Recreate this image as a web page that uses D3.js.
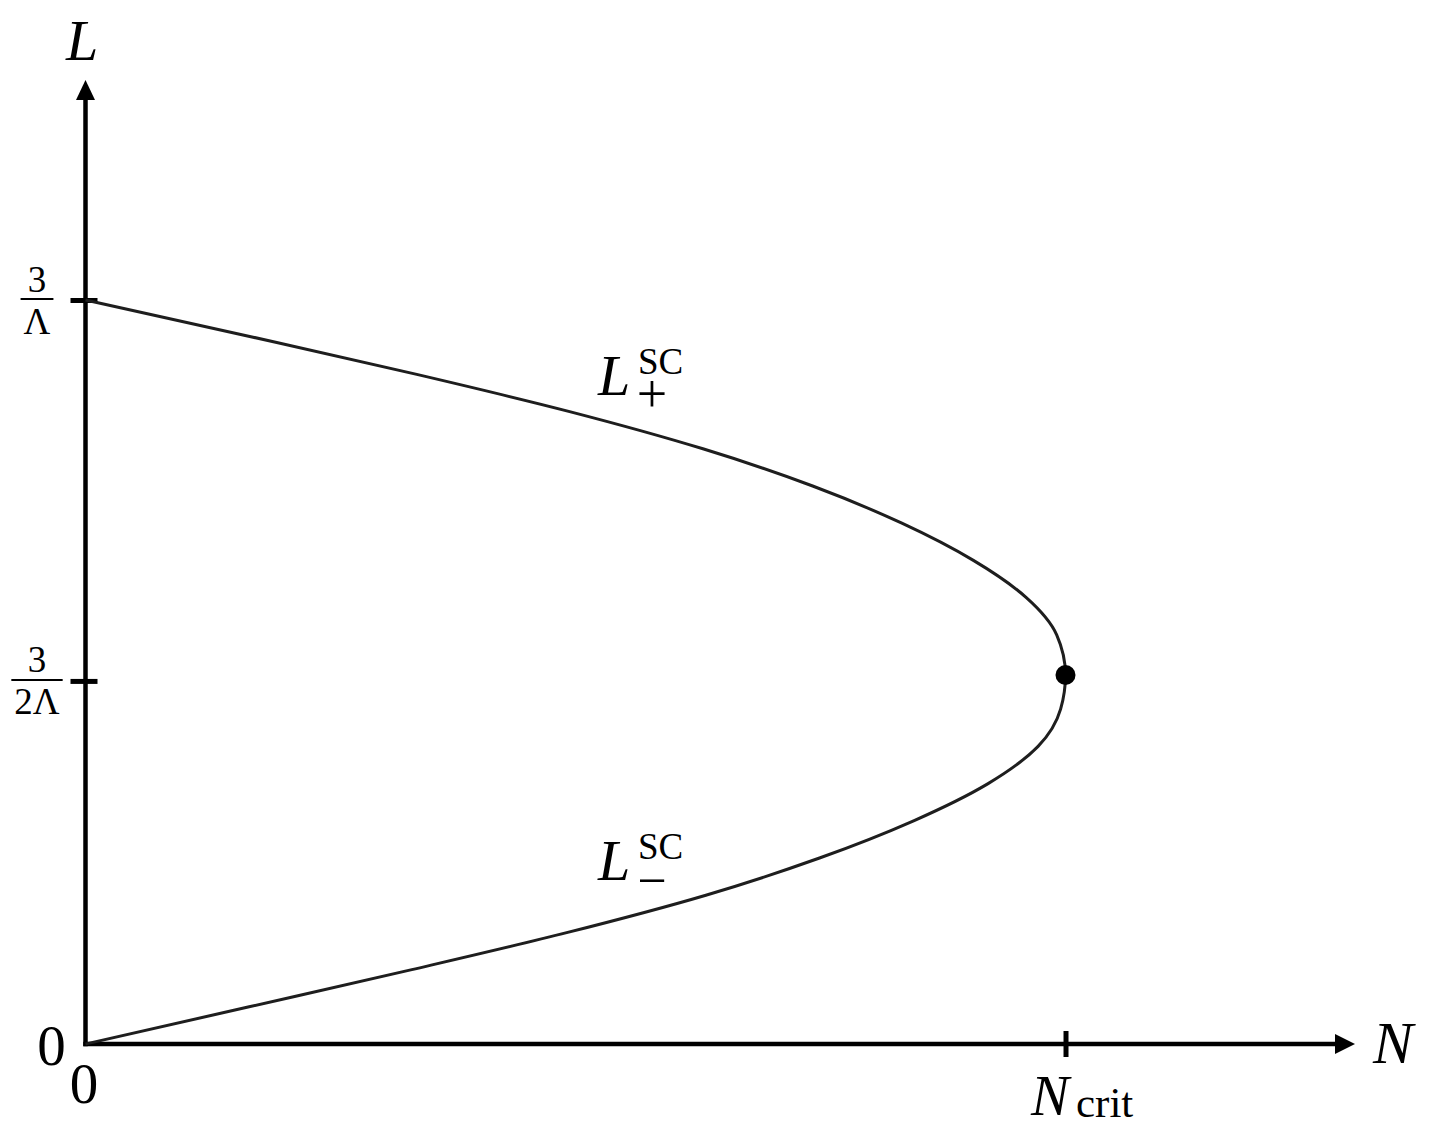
<!DOCTYPE html>
<html><head><meta charset="utf-8">
<script src="https://cdn.jsdelivr.net/npm/d3@7"></script>
<style>body{margin:0;background:#fff} svg{display:block}</style>
</head><body><svg id="c" width="1446" height="1134"></svg>
<script>
// Curve L(N) (N in units of N_crit, L in units of 3/Λ)
const curveN = [0, 0.171, 0.338, 0.494, 0.630, 0.742, 0.833, 0.906, 0.960, 0.991, 1,
                0.995, 0.972, 0.921, 0.845, 0.749, 0.633, 0.492, 0.333, 0.167, 0];
const curveL = [1, 0.95, 0.90, 0.85, 0.80, 0.75, 0.70, 0.65, 0.60, 0.55, 0.496,
                0.45, 0.40, 0.35, 0.30, 0.25, 0.20, 0.15, 0.10, 0.05, 0];
const critN = [1];
const critL = [0.496];
const xTickValues = [1];
const xTickMain = ["N"];
const xTickSub = ["crit"];
const yTickValues = [0.488, 1];
const yTickNumerators = ["3", "3"];
const yTickDenominators = ["2Λ", "Λ"];
const xAxisMax = 1.2954;
const yAxisMax = 1.2957;
const axisTitles = ["N", "L"];
const zeroLabels = ["0", "0"];
const branchMain = ["L", "L"];
const branchSup = ["SC", "SC"];
const branchSub = ["+", "−"];
const branchLabelN = [0.525, 0.525];
const branchLabelL = [0.8723, 0.2204];

const svg = d3.select("#c");
const serif = "'Liberation Serif', 'DejaVu Serif', serif";
const ox = 85.5, oy = 1044;
const x = d3.scaleLinear().domain([0, xAxisMax]).range([ox, 1355]);
const y = d3.scaleLinear().domain([0, yAxisMax]).range([oy, 80]);
const AW = 4.5, ARL = 20, ARH = 10;

// axes via d3
const gx = svg.append("g").attr("transform", `translate(0,${oy})`)
  .call(d3.axisBottom(x).tickValues(xTickValues).tickFormat(() => "").tickSizeOuter(0));
gx.select(".domain").attr("d", `M${ox - AW/2},0H${x(xAxisMax) - ARL + 1}`).attr("stroke", "#000").attr("stroke-width", AW);
gx.selectAll(".tick line").attr("y1", -13).attr("y2", 13).attr("stroke", "#000").attr("stroke-width", 5);
gx.append("path").attr("d", `M${x(xAxisMax)},0L${x(xAxisMax) - ARL},${-ARH}L${x(xAxisMax) - ARL},${ARH}Z`).attr("fill", "#000");

const gy = svg.append("g").attr("transform", `translate(${ox},0)`)
  .call(d3.axisLeft(y).tickValues(yTickValues).tickFormat(() => "").tickSizeOuter(0));
gy.select(".domain").attr("d", `M0,${oy + AW/2}V${y(yAxisMax) + ARL - 1}`).attr("stroke", "#000").attr("stroke-width", AW);
gy.selectAll(".tick line").attr("x1", -15).attr("x2", 12).attr("stroke", "#000").attr("stroke-width", 5);
gy.append("path").attr("d", `M0,${y(yAxisMax)}L${-ARH + 0.5},${y(yAxisMax) + ARL}L${ARH - 0.5},${y(yAxisMax) + ARL}Z`).attr("fill", "#000");

// y tick fraction labels
gy.selectAll(".tick").each(function(d, i) {
  const g = d3.select(this);
  const cx = -48.5;
  const num = g.append("text").attr("x", cx).attr("y", -9).attr("text-anchor", "middle").attr("fill", "#000")
    .attr("font-family", serif).attr("font-size", 37).text(yTickNumerators[i]);
  const den = g.append("text").attr("x", cx).attr("y", 33).attr("text-anchor", "middle").attr("fill", "#000")
    .attr("font-family", serif).attr("font-size", 37).text(yTickDenominators[i]);
  const w = Math.max(num.node().getComputedTextLength(), den.node().getComputedTextLength()) + 6;
  g.append("line").attr("x1", cx - w/2).attr("x2", cx + w/2).attr("y1", -1.5).attr("y2", -1.5)
    .attr("stroke", "#000").attr("stroke-width", 2);
});

// x tick label N_crit
gx.selectAll(".tick").each(function(d, i) {
  const g = d3.select(this);
  g.append("text").attr("x", -35).attr("y", 71).attr("text-anchor", "start").attr("font-family", serif)
    .attr("font-style", "italic").attr("font-size", 57).attr("fill", "#000").text(xTickMain[i]);
  g.append("text").attr("x", 10).attr("y", 73).attr("text-anchor", "start").attr("font-family", serif)
    .attr("font-size", 43).attr("fill", "#000").text(xTickSub[i]);
});

// zero labels
svg.append("text").attr("x", 51.5).attr("y", 1065).attr("text-anchor", "middle").attr("font-family", serif)
  .attr("font-size", 57).text(zeroLabels[0]);
svg.append("text").attr("x", 84).attr("y", 1103).attr("text-anchor", "middle").attr("font-family", serif)
  .attr("font-size", 57).text(zeroLabels[1]);

// axis titles
svg.append("text").attr("x", 1373).attr("y", 1063).attr("font-family", serif).attr("font-style", "italic")
  .attr("font-size", 60).text(axisTitles[0]);
svg.append("text").attr("x", 66).attr("y", 60).attr("font-family", serif).attr("font-style", "italic")
  .attr("font-size", 58).text(axisTitles[1]);

// curve (N as a smooth function of L)
const pts = curveN.map((n, i) => [n, curveL[i]]);
svg.append("path").datum(pts)
  .attr("d", d3.line().x(d => x(d[0])).y(d => y(d[1])).curve(d3.curveMonotoneY))
  .attr("fill", "none").attr("stroke", "#1e1e1e").attr("stroke-width", 3);

// critical point
svg.selectAll("circle.crit").data(critN).enter().append("circle").attr("class", "crit")
  .attr("cx", d => x(d)).attr("cy", (d, i) => y(critL[i])).attr("r", 10).attr("fill", "#000");

// branch labels
branchMain.forEach((m, i) => {
  const bx = x(branchLabelN[i]), by = y(branchLabelL[i]);
  svg.append("text").attr("x", bx - 2).attr("y", by).attr("font-family", serif).attr("font-style", "italic")
    .attr("font-size", 58).text(m);
  svg.append("text").attr("x", bx + 38).attr("y", by - 21).attr("font-family", serif)
    .attr("font-size", 37).text(branchSup[i]);
  svg.append("text").attr("x", bx + 52).attr("y", by + (i === 0 ? 17 : 18)).attr("text-anchor", "middle")
    .attr("font-family", serif).attr("font-size", i === 0 ? 54 : 52).text(branchSub[i]);
});
</script></body></html>
